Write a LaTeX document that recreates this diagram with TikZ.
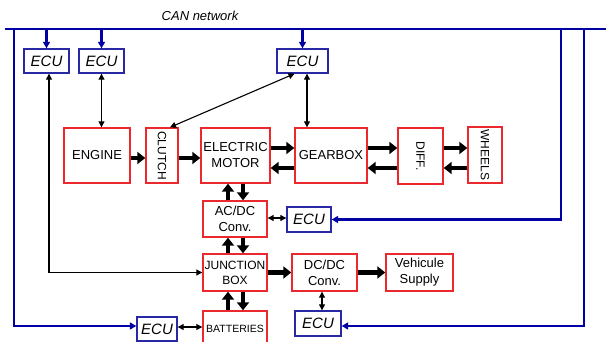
\documentclass[tikz,border=0pt]{standalone}
\usepackage{fontspec}
\setmainfont{Liberation Sans}
\usetikzlibrary{arrows.meta,calc}
\definecolor{busblue}{RGB}{0,0,165}
\definecolor{ecublue}{RGB}{40,40,165}
\definecolor{boxred}{RGB}{235,40,45}
\begin{document}
\begin{tikzpicture}[x=1pt,y=-1pt,
 blk/.style={draw=boxred,line width=1.4pt,inner sep=0pt,align=center,font=\fontsize{13}{16}\selectfont},
 ecu/.style={draw=ecublue,line width=1.4pt,inner sep=0pt,font=\fontsize{15}{17}\selectfont\itshape,minimum height=24pt},
 vtext/.style={rotate=-90,font=\fontsize{12}{14}\selectfont,inner sep=0pt},
 power/.style={line width=4.5pt,-{Triangle[length=8pt,width=12pt]}},
 sig/.style={line width=1.1pt,{Triangle[length=6pt,width=6pt]}-{Triangle[length=6pt,width=6pt]}},
 bus/.style={draw=busblue,line width=2.3pt},
 busarr/.style={bus,-{Triangle[length=6.5pt,width=7pt]}},
]
\clip (0,0) rectangle (606,342);
\fill[white] (0,0) rectangle (606,342);

% CAN bus
\node[font=\fontsize{13}{15}\selectfont\itshape,inner sep=0pt] (can) at (200,16) {CAN network};
\coordinate (busL) at (5,29);
\coordinate (busR) at (606,29);
\draw[bus] (busL) -- (busR);

% ECUs
\node[ecu,minimum width=45pt] (e1) at (46.5,61) {ECU};
\node[ecu,minimum width=45pt] (e2) at (101.5,61) {ECU};
\node[ecu,minimum width=51pt] (e3) at (302.5,61) {ECU};
\node[ecu,minimum width=44pt,minimum height=25pt] (e4) at (309,219.5) {ECU};
\node[ecu,minimum width=40pt] (e5) at (157,329) {ECU};
\node[ecu,minimum width=46pt,minimum height=25pt] (e6) at (318,323.5) {ECU};

% Blocks
\node[blk,minimum width=66pt,minimum height=55pt] (eng) at (97,155.5) {ENGINE};
\node[blk,minimum width=32pt,minimum height=55pt] (clu) at (162,155.5) {};
\node[vtext] (clut) at (clu) {CLUTCH};
\node[blk,minimum width=69pt,minimum height=55pt] (mot) at (235.5,155.5) {ELECTRIC\\MOTOR};
\node[blk,minimum width=72pt,minimum height=55pt] (gb) at (331,155.5) {GEARBOX};
\node[blk,minimum width=45pt,minimum height=56pt] (dif) at (420.5,156) {};
\node[vtext] (dift) at (dif) {DIFF.};
\node[blk,minimum width=34pt,minimum height=56pt] (whl) at (485,155) {};
\node[vtext] (whlt) at (whl) {WHEELS};
\node[blk,minimum width=64pt,minimum height=36pt] (acdc) at (235,219) {AC/DC\\Conv.};
\node[blk,minimum width=64pt,minimum height=37pt,font=\fontsize{12}{15}\selectfont] (jb) at (235,272.5) {JUNCTION\\BOX};
\node[blk,minimum width=65pt,minimum height=37pt] (dcdc) at (324.5,272.5) {DC/DC\\Conv.};
\node[blk,minimum width=67pt,minimum height=37pt] (veh) at (419.5,272.5) {Vehicule\\Supply};
\node[blk,minimum width=64pt,minimum height=36pt,font=\fontsize{10.5}{12}\selectfont] (bat) at (235,329) {BATTERIES};

% Bus drops
\draw[busarr] (e1.north |- busL) -- (e1.north);
\draw[busarr] (e2.north |- busL) -- (e2.north);
\draw[busarr] (e3.north |- busL) -- (e3.north);
\coordinate (dropL) at (14,29);
\coordinate (dropA) at (561,29);
\coordinate (dropB) at (584,29);
\draw[busarr] (dropL) |- ([yshift=3pt]e5.west);
\draw[busarr] (dropA) |- (e4.east);
\draw[busarr] (dropB) |- ([yshift=-2.5pt]e6.east);

% Signal links
\draw[sig] ([xshift=2.5pt]e1.south) |- (jb.west);
\draw[sig] (e2.south) -- (e2.south |- eng.north);
\draw[sig] ([xshift=-8pt]e3.south) -- ([xshift=8pt]clu.north);
\draw[sig] ([xshift=4.5pt]e3.south) -- ([xshift=4.5pt]e3.south |- gb.north);
\draw[sig] ([yshift=1pt]acdc.east) -- ([yshift=1pt]acdc.east -| e4.west);
\draw[sig] ([xshift=-2.5pt]dcdc.south) -- ([xshift=-2.5pt]dcdc.south |- e6.north);
\draw[sig] ([yshift=2pt]e5.east) -- ([yshift=2pt]e5.east -| bat.west);

% Power flows
\draw[power] ([yshift=-2.5pt]eng.east) -- ([yshift=-2.5pt]eng.east -| clu.west);
\draw[power] ([yshift=-2.5pt]clu.east) -- ([yshift=-2.5pt]clu.east -| mot.west);
\draw[power] ([yshift=7.5pt]mot.east) -- ([yshift=7.5pt]mot.east -| gb.west);
\draw[power] ([yshift=-12.5pt]gb.west) -- ([yshift=-12.5pt]gb.west -| mot.east);
\draw[power] ([yshift=7.5pt]gb.east) -- ([yshift=7.5pt]gb.east -| dif.west);
\draw[power] ([yshift=-12.5pt]dif.west |- gb.east) -- ([yshift=-12.5pt]gb.east);
\draw[power] ([yshift=7.5pt]dif.east |- gb.east) -- ([yshift=7.5pt]whl.west |- gb.east);
\draw[power] ([yshift=-12.5pt]whl.west |- gb.east) -- ([yshift=-12.5pt]dif.east |- gb.east);
% vertical
\draw[power] ([xshift=-7pt]acdc.north) -- ([xshift=-7pt]mot.south -| acdc.north);
\draw[power] ([xshift=8pt]mot.south -| acdc.north) -- ([xshift=8pt]acdc.north);
\draw[power] ([xshift=-7pt]jb.north) -- ([xshift=-7pt]acdc.south);
\draw[power] ([xshift=8pt]acdc.south) -- ([xshift=8pt]jb.north);
\draw[power] ([xshift=-7pt]bat.north) -- ([xshift=-7pt]jb.south);
\draw[power] ([xshift=8pt]jb.south) -- ([xshift=8pt]bat.north);
\draw[power] (jb.east) -- (jb.east -| dcdc.west);
\draw[power] (dcdc.east) -- (dcdc.east -| veh.west);
\end{tikzpicture}
\end{document}
